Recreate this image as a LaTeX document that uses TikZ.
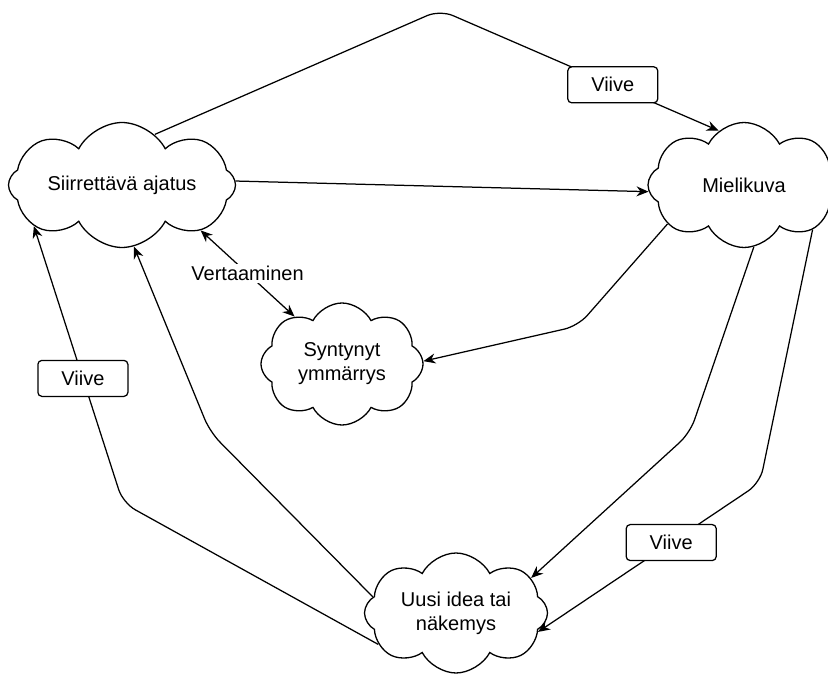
\documentclass[tikz,border=0pt]{standalone}
\usepackage{fontspec}
\setmainfont{Liberation Sans}
\usetikzlibrary{arrows.meta, shapes.symbols}

\begin{document}
\begin{tikzpicture}[x=1pt, y=-1pt,
    wolk/.style={draw, cloud, cloud puffs=8, cloud puff arc=125, cloud ignores aspect,
        line width=1.3pt, align=center, inner sep=0pt, font=\fontsize{20}{24}\selectfont},
    conn/.style={line width=1.25pt, rounded corners=14pt, -{Stealth[length=12pt, width=10pt]}},
    viivebox/.style={draw, fill=white, rounded corners=4pt, line width=1.25pt,
        minimum width=90pt, minimum height=36pt, inner sep=0pt, font=\fontsize{20}{24}\selectfont},
    lbl/.style={fill=white, inner sep=2pt, font=\fontsize{20}{24}\selectfont}]
    \useasboundingbox (0,0) rectangle (828,674);

    % clouds
    \node[wolk, minimum width=227pt, minimum height=125pt] (siirr) at (122,185) {Siirrettävä ajatus};
    \node[wolk, minimum width=192pt, minimum height=125pt] (mieli) at (744,185) {Mielikuva};
    \node[wolk, minimum width=162pt, minimum height=122pt] (synt) at (342,364) {Syntynyt\\ymmärrys};
    \node[wolk, minimum width=183pt, minimum height=120pt] (uusi) at (456,613) {Uusi idea tai\\näkemys};

    % bends of the connectors
    \coordinate (topbend) at (440,10);
    \coordinate (msbend) at (578,326);
    \coordinate (mubend) at (690,433);
    \coordinate (mvbend) at (760,483);
    \coordinate (usbend) at (210,432);
    \coordinate (uvbend) at (123,503);

    % connectors
    \draw[conn] (siirr.57) -- (topbend) -- node[viivebox, pos=0.62] (viive1) {Viive} (mieli.115);
    \draw[conn] (siirr.2) -- (mieli.184);
    \draw[conn, {Stealth[length=12pt, width=10pt]}-{Stealth[length=12pt, width=10pt]}]
        (siirr.-30) -- node[lbl] (vert) {Vertaaminen} (synt.135);
    \draw[conn] (mieli.207) -- (msbend) -- (synt.2);
    \draw[conn] (mieli.279) -- (mubend) -- (uusi.25);
    \draw[conn] (mieli.-33) -- (mvbend) -- node[viivebox, pos=0.4] (viive2) {Viive} (uusi.-13);
    \draw[conn] (uusi.169) -- (usbend) -- (siirr.281);
    \draw[conn] (uusi.202) -- (uvbend) -- node[viivebox, pos=0.45] (viive3) {Viive} (siirr.205);
\end{tikzpicture}
\end{document}
